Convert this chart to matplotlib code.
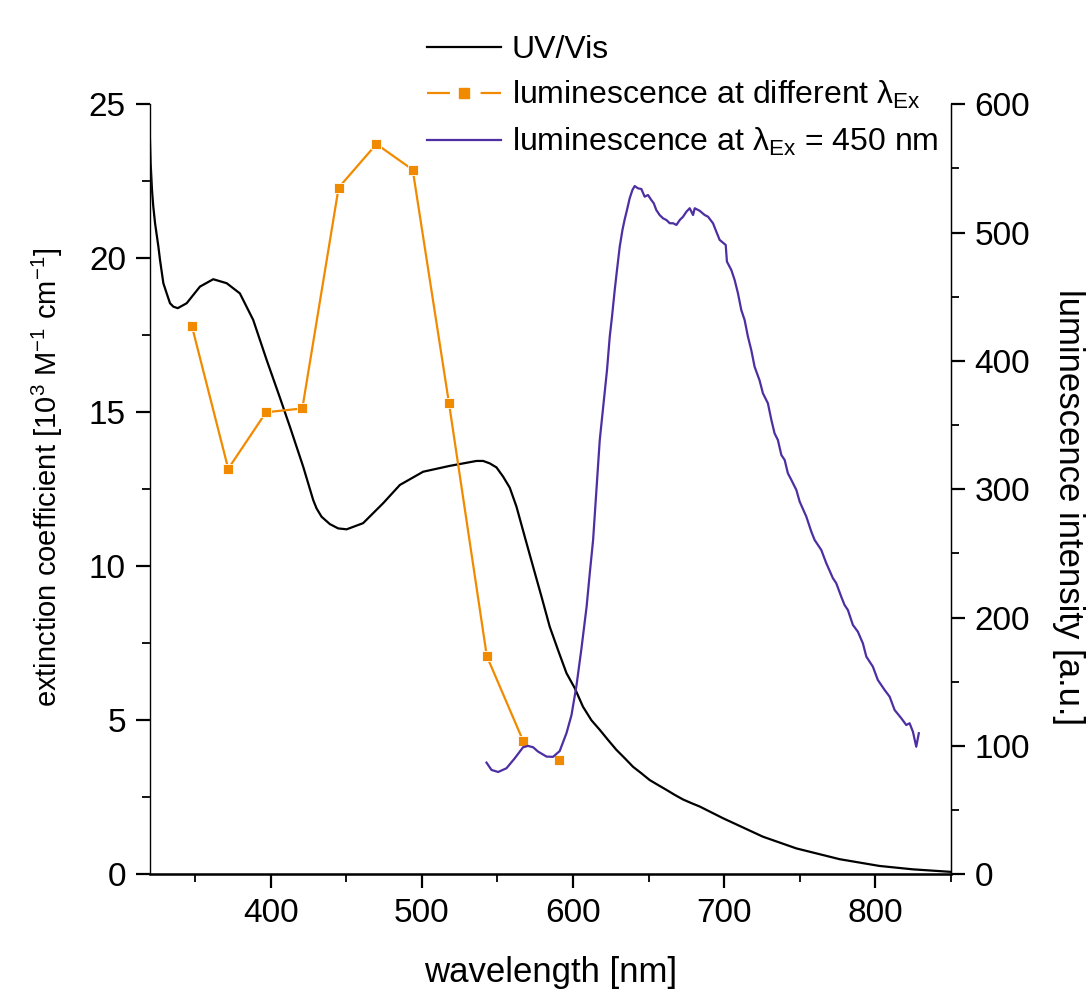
import matplotlib
matplotlib.use("Agg")
import matplotlib.pyplot as plt
from matplotlib.lines import Line2D
from matplotlib.legend_handler import HandlerTuple
from matplotlib.ticker import MultipleLocator

plt.rcParams['font.family'] = ['Liberation Sans', 'DejaVu Sans']
plt.rcParams['mathtext.fontset'] = 'custom'
plt.rcParams['mathtext.rm'] = 'Liberation Sans'
plt.rcParams['mathtext.it'] = 'Liberation Sans:italic'

# UV/Vis absorption (left axis, 10^3 M^-1 cm^-1)
uv_wl = [320, 320.7, 321.6, 322.4, 323.6, 325.8, 326.9, 329.1, 331.3, 333.5, 335.7, 338.6,
         344.5, 353.3, 362.1, 371, 379.7, 388.5, 397.4, 406, 413, 421.6, 428.2, 430.4,
         433.7, 439.2, 444.7, 450.3, 461.2, 474.5, 485.5, 500.9, 518.5, 536.2, 540.6, 545,
         549.4, 553.8, 558.2, 562.6, 568.1, 573.6, 579.2, 584.6, 590.1, 595.7, 601.2, 606.6,
         612.2, 617.7, 623.2, 628.7, 634.2, 639.7, 645.2, 650.7, 656.2, 661.8, 667.2, 672.7,
         678.3, 683.8, 699.2, 725.6, 747.7, 776.3, 802.7, 824.8, 849.3]
uv_eps = [24.27, 23.08, 22.2, 21.7, 21.14, 20.38, 19.94, 19.19, 18.86, 18.54, 18.43, 18.38,
          18.54, 19.08, 19.32, 19.19, 18.86, 18.0, 16.7, 15.5, 14.5, 13.23, 12.15, 11.88,
          11.61, 11.37, 11.23, 11.2, 11.4, 12.05, 12.64, 13.07, 13.26, 13.42, 13.42, 13.34,
          13.21, 12.91, 12.55, 11.94, 10.96, 9.99, 9.01, 8.04, 7.28, 6.53, 6.04, 5.44,
          5.0, 4.69, 4.36, 4.04, 3.77, 3.49, 3.28, 3.06, 2.9, 2.74, 2.58, 2.43,
          2.31, 2.2, 1.82, 1.22, 0.84, 0.49, 0.27, 0.16, 0.08]

# luminescence at different excitation wavelengths (right axis)
exc_wl = [348, 372, 397, 421, 445, 470, 494, 518, 543, 567, 591]
exc_int = [427, 316, 360, 363, 535, 569, 549, 367, 170, 104, 89]

# luminescence spectrum, excitation 450 nm (right axis)
em_wl = [542.8, 546.1, 550.5, 556, 561.5, 567, 570.3, 573.6, 576.9, 582.5, 586.8, 591.2,
         595.7, 599, 602.3, 605.6, 609, 611.1, 613.3, 615.5, 617.7, 622.5, 624.3, 625.8,
         627.6, 629.1, 630.9, 632.7, 634.2, 635.7, 637.5, 639.3, 640.8, 643, 645.2, 647.4,
         649.6, 651.8, 653.4, 655.1, 657.3, 659.5, 661.8, 664, 666.2, 668.4, 670.6, 672.8,
         675, 677.2, 679.4, 680.5, 683.8, 687.1, 689.3, 692.6, 694.8, 697, 701, 701.8,
         704.7, 706.9, 709.1, 711.3, 713.5, 715.7, 717.9, 720.1, 723.4, 725.6, 728.9, 731.2,
         733.3, 735.5, 737.8, 740, 742.1, 744.4, 747.7, 749.9, 754.3, 757.6, 759.8, 764.2,
         767.5, 771.9, 774.1, 777.4, 779.6, 781.8, 785.1, 788.4, 791.7, 794, 798.3, 801.6,
         806.1, 809.4, 812.7, 817.1, 820.4, 822.6, 824.8, 827, 828.7]
em_int = [87, 81.3, 79.7, 82.6, 90.4, 99, 100, 99, 95.6, 91.7, 91.5, 96,
          110, 124, 147, 176, 208.5, 234.6, 260.5, 299.5, 338.4, 393, 418.9, 434.5,
          455.3, 470.9, 489, 502, 510.4, 517.6, 526.8, 533.2, 536.3, 534.5, 534, 528,
          529.3, 525.4, 522.9, 517.6, 513.7, 511.2, 509.8, 507.3, 507.3, 506, 509.8, 512.4,
          516.3, 519, 513.7, 519, 517, 513.7, 512.4, 507.3, 500.7, 494.3, 490.4, 477.4,
          470.9, 463.1, 452.7, 439.7, 431.9, 418.9, 408.5, 395.5, 384.8, 374.8, 367, 354,
          343.6, 338.4, 326.7, 322.8, 312.5, 307.3, 299.5, 290.4, 278.7, 267, 260.5, 252.7,
          242.4, 230.7, 226.8, 216.3, 209.8, 205.9, 194.3, 189, 180, 169.6, 161.8, 151.4,
          143.6, 138.4, 128, 121.6, 116.3, 117.7, 111.1, 99.4, 109.9]

orange = '#f28a00'
purple = '#4d2ea3'

fig = plt.figure(figsize=(10.88, 9.97), dpi=100)
ax = fig.add_axes([0.1375, 0.1231, 0.7366, 0.7723])
ax2 = ax.twinx()

ax.plot(uv_wl, uv_eps, color='black', lw=1.6)
ax2.plot(exc_wl[:-1], exc_int[:-1], color=orange, lw=1.6)
ax2.plot(exc_wl, exc_int, ls='none', marker='s', ms=6.5, color=orange, mec='white', mew=0.6)
ax2.plot(em_wl, em_int, color=purple, lw=1.6)

ax.set_xlim(320, 850)
ax.set_ylim(0, 25)
ax2.set_ylim(0, 600)

ax.xaxis.set_major_locator(MultipleLocator(100))
ax.xaxis.set_minor_locator(MultipleLocator(50))
ax.yaxis.set_major_locator(MultipleLocator(5))
ax.yaxis.set_minor_locator(MultipleLocator(2.5))
ax2.yaxis.set_major_locator(MultipleLocator(100))
ax2.yaxis.set_minor_locator(MultipleLocator(50))

for a in (ax, ax2):
    a.spines['top'].set_visible(False)
    a.tick_params(which='major', direction='out', length=10, width=1.6, labelsize=24, pad=7)
    a.tick_params(which='minor', direction='out', length=5.5, width=1.3)
ax.spines['left'].set_linewidth(1.0)
ax.spines['left'].set_color('#555555')
ax.spines['bottom'].set_linewidth(1.8)
ax2.spines['right'].set_linewidth(1.0)

ax.set_xlabel('wavelength [nm]', fontsize=25)
ax.xaxis.set_label_coords(0.5, -0.128)
ax.xaxis.label.set_va('center')
ax.set_ylabel(r'extinction coefficient [10$^3$ M$^{-1}$ cm$^{-1}$]', fontsize=21)
ax.yaxis.set_label_coords(-0.127, 0.516)
ax.yaxis.label.set_va('center')
ax2.set_ylabel('luminescence intensity [a.u.]', fontsize=25, rotation=270)
ax2.yaxis.set_label_coords(1.146, 0.477)
ax2.yaxis.label.set_va('center')

h_uv = Line2D([], [], color='black', lw=1.6)
h_exc = (Line2D([], [], color=orange, lw=1.6, dashes=(10.3, 13.8)),
         Line2D([], [], color=orange, ls='none', marker='s', ms=6.5))
h_em = Line2D([], [], color=purple, lw=1.6)
fig.legend([h_uv, h_exc, h_em],
           ['UV/Vis', r'luminescence at different λ$_{\rm Ex}$', r'luminescence at λ$_{\rm Ex}$ = 450 nm'],
           handler_map={tuple: HandlerTuple(ndivide=1)},
           loc='upper left', bbox_to_anchor=(0.378, 0.981), frameon=False,
           fontsize=23, handlelength=2.3, handletextpad=0.35, labelspacing=0.45, borderpad=0)

fig.savefig('out.png', dpi=100)
